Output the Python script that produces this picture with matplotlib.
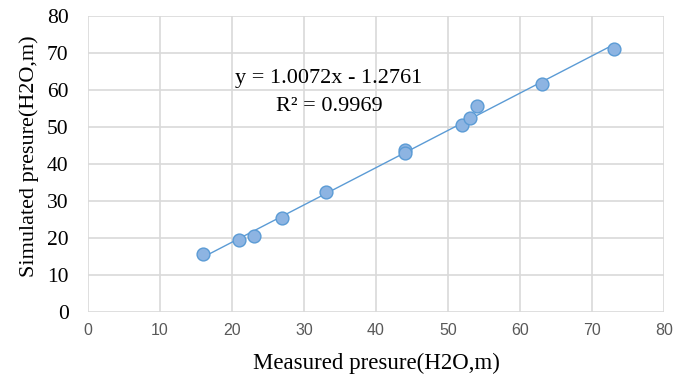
import matplotlib
matplotlib.use("Agg")
import matplotlib.pyplot as plt
import numpy as np

measured = [16, 21, 23, 27, 33, 44, 44, 52, 53, 54, 63, 73]
simulated = [15.6, 19.5, 20.6, 25.5, 32.5, 43.8, 42.9, 50.5, 52.5, 55.7, 61.5, 71.1]
slope = 1.0072
intercept = -1.2761
r2 = 0.9969
x_ticks = [0, 10, 20, 30, 40, 50, 60, 70, 80]
y_ticks = [0, 10, 20, 30, 40, 50, 60, 70, 80]

fig = plt.figure(figsize=(6.88, 3.81), dpi=100)
ax = fig.add_axes([88/688, 1-312/381, (664-88)/688, (312-16)/381])

ax.set_xlim(0, 80)
ax.set_ylim(0, 80)
ax.set_xticks(x_ticks)
ax.set_yticks(y_ticks)
ax.grid(True, color="#d9d9d9", linewidth=1.2)
ax.set_axisbelow(True)
for s in ax.spines.values():
    s.set_visible(False)
ax.tick_params(axis="both", length=0)
ax.tick_params(axis="x", pad=8, labelsize=11.5, labelcolor="#595959")
ax.tick_params(axis="y", pad=14, labelsize=15.5)
for lab in ax.get_xticklabels():
    lab.set_family("Liberation Sans")
for lab in ax.get_yticklabels():
    lab.set_family("Liberation Serif")

xs = np.array([min(measured), max(measured)])
ax.plot(xs, slope*xs + intercept, color="#5b9bd5", linewidth=1.0, zorder=2)
ax.scatter(measured, simulated, s=85, facecolor="#8db4e2", edgecolor="#5b9bd5",
           linewidth=1.0, zorder=3)

ax.text(0.417, 0.79, f"y = {slope:.4f}x - {abs(intercept):.4f}", transform=ax.transAxes,
        ha="center", va="center", fontsize=16, family="Liberation Serif")
ax.text(0.419, 0.693, f"R² = {r2:.4f}", transform=ax.transAxes,
        ha="center", va="center", fontsize=16, family="Liberation Serif")

fig.text(376/688, 1-363/381, "Measured presure(H2O,m)", fontsize=16.5,
         family="Liberation Serif", ha="center", va="center")
fig.text(29/688, 1-156/381, "Simulated presure(H2O,m)", fontsize=16,
         family="Liberation Serif", ha="center", va="center", rotation=90)

fig.savefig("out.png", dpi=100)
